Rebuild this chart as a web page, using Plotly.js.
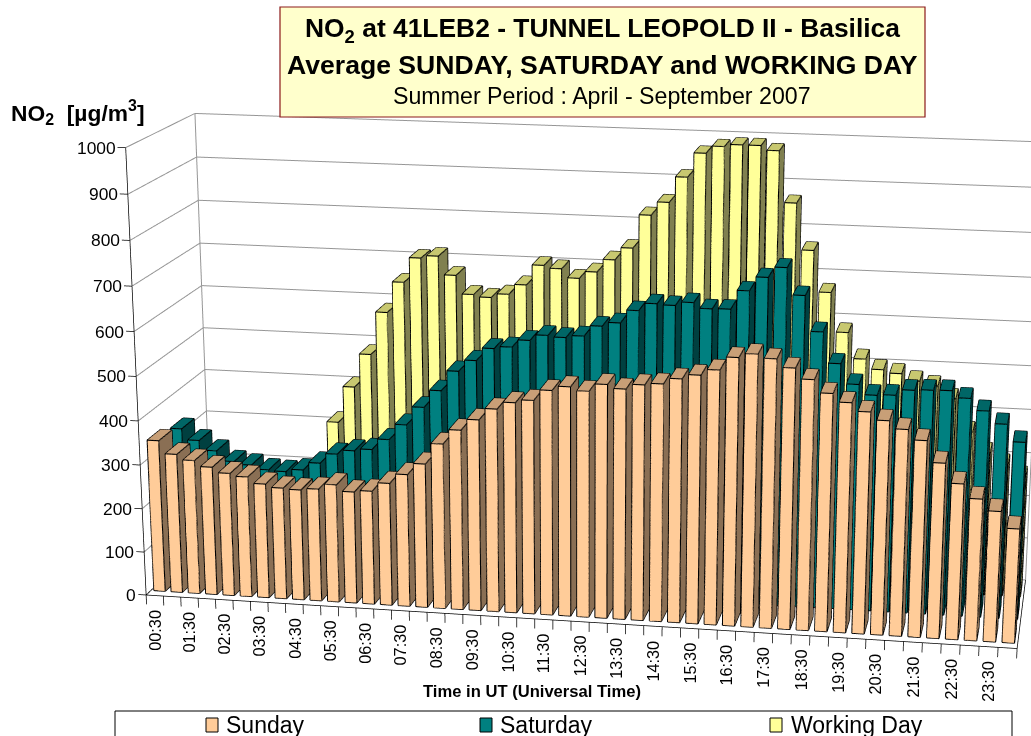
<!DOCTYPE html>
<html><head><meta charset="utf-8">
<script src="https://cdn.plot.ly/plotly-3.0.1.min.js"></script>
<style>html,body{margin:0;padding:0;width:1031px;height:736px;overflow:hidden;background:#fff}
#chart{position:absolute;left:-536px;top:-693px}</style></head>
<body><div id="chart"></div>
<script>
const tickLabels=["00:30","01:30","02:30","03:30","04:30","05:30","06:30","07:30","08:30","09:30","10:30","11:30","12:30","13:30","14:30","15:30","16:30","17:30","18:30","19:30","20:30","21:30","22:30","23:30"];
const sunday=[348,319,307,294,282,276,262,255,253,257,269,255,259,279,301,327,374,407,432,458,474,481,505,515,507,524,516,527,531,544,554,567,596,605,597,579,556,528,510,492,475,458,436,389,346,315,290,254];
const saturday=[333,308,286,263,257,248,246,252,270,293,303,308,333,369,411,451,497,523,552,557,574,587,584,589,613,622,651,668,666,674,662,663,705,736,759,700,622,554,510,488,490,503,505,506,491,465,438,400];
const workingDay=[230,205,190,180,175,175,178,190,323,408,486,585,656,713,719,677,635,630,639,662,708,702,682,698,727,755,830,860,917,971,987,992,992,982,869,766,674,586,528,506,499,484,475,448,374,328,303,277];
const zTicks=[0,100,200,300,400,500,600,700,800,900,1000];
const seriesNames=["Sunday","Saturday","Working Day"];
const frontColors=["#FFCC99","#008080","#FFFF99"];
const topColors=["#C89F77","#006666","#C8C870"];
const sideColors=["#8A6F54","#004040","#808050"];

const W=3.0417,L=0.7397,H=1.585, size=2356, left=536, top_=693;
const sx=W/48,sy=L/3,sz=H/1000;
const xr=[-1.5,47.6],yr=[-0.6,2.6],zr=[-25,1005];
const cx=((xr[0]+xr[1])/2+0.5)*sx, cy=((yr[0]+yr[1])/2+0.5)*sy, cz=((zr[0]+zr[1])/2)*sz;
const eyeReal=[3.271,-9.063,3.218], F=[-0.15719,0.94597,-0.28363], Down=[0.05284,-0.27874,-0.95891];
const eye={x:eyeReal[0]-cx,y:eyeReal[1]-cy,z:eyeReal[2]-cz};
const center={x:eye.x+10*F[0],y:eye.y+10*F[1],z:eye.z+10*F[2]};
const px=x=>(x+left)/size, py=y=>1-(y+top_)/size;

const halfW=0.33, halfD=0.29;
function barTraces(vals,row){
  const X=[],Y=[],Z=[],I=[],J=[],K=[],FC=[];
  const lx=[],ly=[],lz=[];
  vals.forEach((v,c)=>{
    const x0=c-halfW,x1=c+halfW,y0=row-halfD,y1=row+halfD,n=X.length;
    X.push(x0,x1,x1,x0,x0,x1,x1,x0);Y.push(y0,y0,y1,y1,y0,y0,y1,y1);Z.push(0,0,0,0,v,v,v,v);
    const quad=(a,b,cc,d,col)=>{I.push(n+a,n+a);J.push(n+b,n+cc);K.push(n+cc,n+d);FC.push(col,col);};
    quad(0,1,5,4,frontColors[row]);
    quad(4,5,6,7,topColors[row]);
    quad(1,2,6,5,sideColors[row]);
    [[0,1],[1,5],[5,4],[4,0],[5,6],[6,7],[7,4],[1,2],[2,6]].forEach(e=>{
      lx.push(X[n+e[0]],X[n+e[1]],null);ly.push(Y[n+e[0]],Y[n+e[1]],null);lz.push(Z[n+e[0]],Z[n+e[1]],null);
    });
  });
  return [{type:'mesh3d',name:seriesNames[row],x:X,y:Y,z:Z,i:I,j:J,k:K,facecolor:FC,flatshading:true,
      lighting:{ambient:1,diffuse:0,specular:0,roughness:1,fresnel:0},hoverinfo:'skip',showscale:false},
    {type:'scatter3d',mode:'lines',x:lx,y:ly,z:lz,line:{color:'#000',width:2.2},hoverinfo:'skip',showlegend:false}];
}
function segs(list,color,width){
  const x=[],y=[],z=[];
  list.forEach(s=>{x.push(s[0],s[3],null);y.push(s[1],s[4],null);z.push(s[2],s[5],null);});
  return {type:'scatter3d',mode:'lines',x,y,z,line:{color,width},hoverinfo:'skip',showlegend:false};
}
const grid=[],axes=[];
zTicks.forEach(v=>{
  grid.push([-0.5,-0.5,v,-0.5,2.5,v],[-0.5,2.5,v,47.5,2.5,v]);
  axes.push([-0.5,-0.5,v,-0.95,-0.5,v]);
});
grid.push([-0.5,2.5,0,-0.5,2.5,1000],[47.5,2.5,0,47.5,2.5,1000]);
axes.push([-0.5,-0.5,0,-0.5,-0.5,1000],[-0.5,-0.5,0,47.5,-0.5,0],[-0.5,-0.5,0,-0.5,2.5,0],[47.5,-0.5,0,47.5,2.5,0]);
for(let i=0;i<=48;i++) axes.push([i-0.5,-0.5,0,i-0.5,-0.5,-22]);

const data=[segs(grid,'#969696',2),segs(axes,'#000',1.5)]
  .concat(barTraces(workingDay,2),barTraces(saturday,1),barTraces(sunday,0));

const fontName='"Liberation Sans",Arial,sans-serif';
const sceneAnn=[];
zTicks.forEach(v=>sceneAnn.push({x:-0.5,y:-0.5,z:v,text:String(v),showarrow:false,xanchor:'right',yanchor:'middle',xshift:-8,font:{family:fontName,size:17.4,color:'#000'}}));
tickLabels.forEach((t,i)=>sceneAnn.push({x:2*i,y:-0.5,z:0,text:t,showarrow:false,textangle:-90,xanchor:'center',yanchor:'top',yshift:-12,font:{family:fontName,size:16.3,color:'#000'}}));

function ann(x,y,text,size_,bold,anchor){
  return {xref:'paper',yref:'paper',x:px(x),y:py(y),text:bold?'<b>'+text+'</b>':text,showarrow:false,xanchor:anchor||'center',yanchor:'middle',font:{family:fontName,size:size_,color:'#000'}};
}
function rect(x0,y0,x1,y1,fill,line,w){
  return {type:'rect',xref:'paper',yref:'paper',x0:px(x0),x1:px(x1),y0:py(y0),y1:py(y1),fillcolor:fill,line:{color:line,width:w}};
}
const legendX=[206,480,770];
const layout={width:size,height:size,margin:{l:0,r:0,t:0,b:0},paper_bgcolor:'#fff',showlegend:false,
  scene:{domain:{x:[0,1],y:[0,1]},aspectmode:'manual',aspectratio:{x:(xr[1]-xr[0])*sx,y:(yr[1]-yr[0])*sy,z:(zr[1]-zr[0])*sz},
    camera:{eye,center,up:{x:-Down[0],y:-Down[1],z:-Down[2]},projection:{type:'perspective'}},
    xaxis:{visible:false,range:xr,autorange:false,type:'linear'},
    yaxis:{visible:false,range:yr,autorange:false,type:'linear'},
    zaxis:{visible:false,range:zr,autorange:false,type:'linear'},
    bgcolor:'#fff',annotations:sceneAnn},
  shapes:[rect(280,7,925,117,'#FFFFCC','#8B1A1A',1.2),rect(115,711,1012,745,'#fff','#000',1)]
    .concat(legendX.map((x,i)=>rect(x,718,x+12,732,frontColors[i],'#000',1))),
  annotations:[
    ann(602,30,'NO<sub>2</sub> at 41LEB2 - TUNNEL LEOPOLD II - Basilica',26.4,true),
    ann(602,65,'Average SUNDAY, SATURDAY and WORKING DAY',26.6,true),
    ann(602,96,'Summer Period : April - September 2007',23.2,false),
    ann(9,113,'NO<sub>2</sub>&nbsp;&nbsp;[µg/m<sup>3</sup>]',22.8,true,'left'),
    ann(532,691,'Time in UT (Universal Time)',16.6,true),
    ann(224,725,seriesNames[0],23,false,'left'),
    ann(498,725,seriesNames[1],23,false,'left'),
    ann(789,725,seriesNames[2],23,false,'left')
  ]};
Plotly.newPlot('chart',data,layout,{displayModeBar:false,responsive:false});
</script></body></html>
